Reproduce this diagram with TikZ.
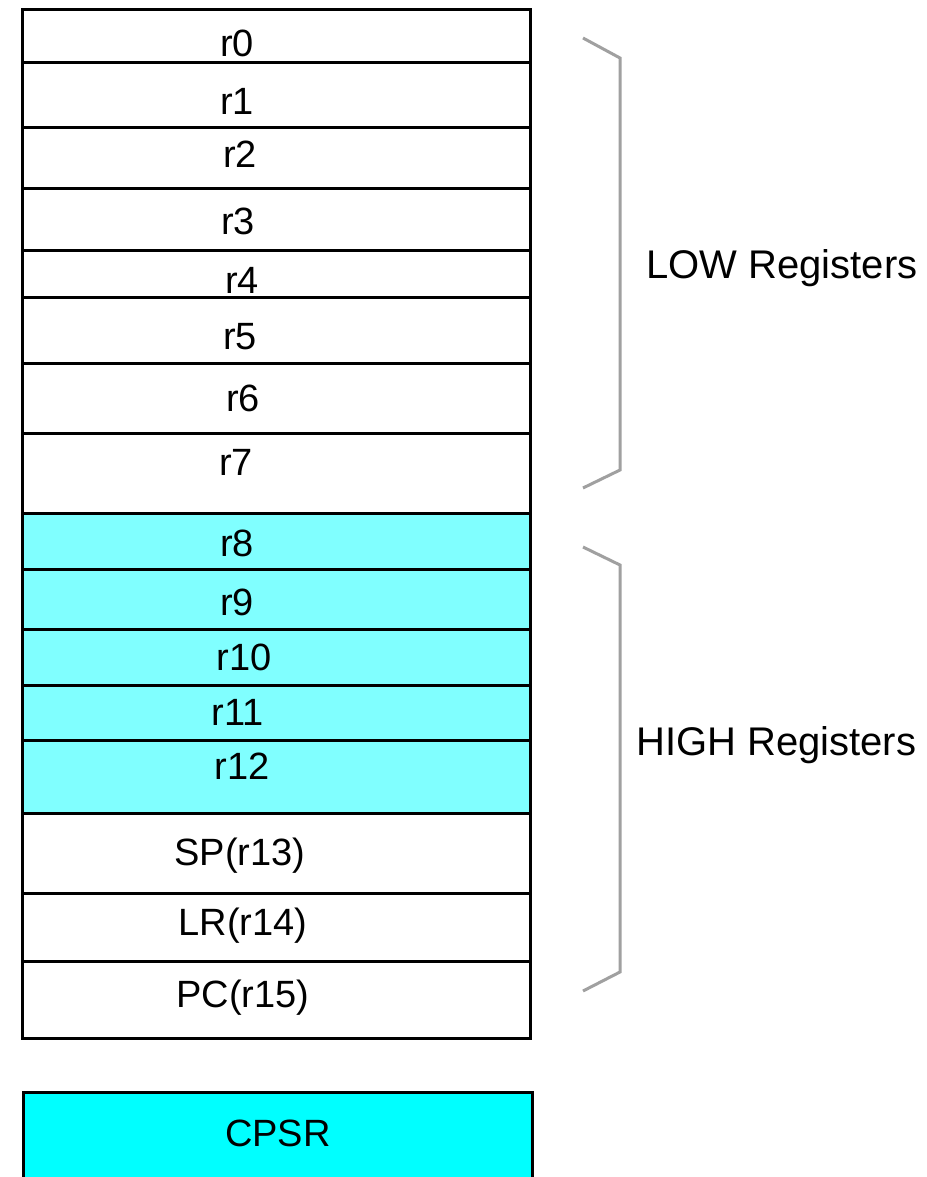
\documentclass[tikz,border=0pt]{standalone}
\usepackage{fontspec}
\setmainfont{Liberation Sans}
\definecolor{hicyan}{RGB}{128,255,255}
\definecolor{cpsrcyan}{RGB}{0,255,255}
\definecolor{bracegray}{RGB}{160,160,160}
\begin{document}
\begin{tikzpicture}[x=1pt,y=-1pt,
  cell/.style={draw=black,line width=3pt},
  lab/.style={font=\fontsize{38}{40}\selectfont, inner sep=0pt},
  side/.style={font=\fontsize{40}{42}\selectfont, inner sep=0pt, anchor=west},
  bracket/.style={draw=bracegray, line width=3pt, line join=miter}]
\clip (0,0) rectangle (926,1177);
\fill[white] (0,0) rectangle (926,1177);
% register file
\fill[hicyan] (22,513) rectangle (530,813);
\draw[cell] (22,10) rectangle (530,1038);
\foreach \y in {63,128,189,250,297,363,433,513,569,629,685,740,813,893,961}
  \draw[cell] (22,\y) -- (530,\y);
% CPSR
\draw[cell, fill=cpsrcyan] (23,1092) rectangle (532,1200);
% labels
\node[lab] (r0) at (237,43) {r0};
\node[lab] (r1) at (237,101) {r1};
\node[lab] (r2) at (240,154) {r2};
\node[lab] (r3) at (238,221) {r3};
\node[lab] (r4) at (242,280) {r4};
\node[lab] (r5) at (240,337) {r5};
\node[lab] (r6) at (243,398) {r6};
\node[lab] (r7) at (236,462) {r7};
\node[lab] (r8) at (237,543) {r8};
\node[lab] (r9) at (237,602) {r9};
\node[lab] (r10) at (244,657) {r10};
\node[lab] (r11) at (238,712) {r11};
\node[lab] (r12) at (242,766) {r12};
\node[lab] (sp) at (240,856) {SP(r13)};
\node[lab] (lr) at (243,926) {LR(r14)};
\node[lab] (pc) at (243,998) {PC(r15)};
\node[lab] (cpsr) at (278,1133) {CPSR};
% brackets
\draw[bracket] (583,38) -- (620,58) -- (620,470) -- (583,488);
\draw[bracket] (583,547) -- (620,565) -- (620,972) -- (583,991);
\node[side] (low) at (646,268) {LOW Registers};
\node[side] (high) at (636,745) {HIGH Registers};
\end{tikzpicture}
\end{document}
